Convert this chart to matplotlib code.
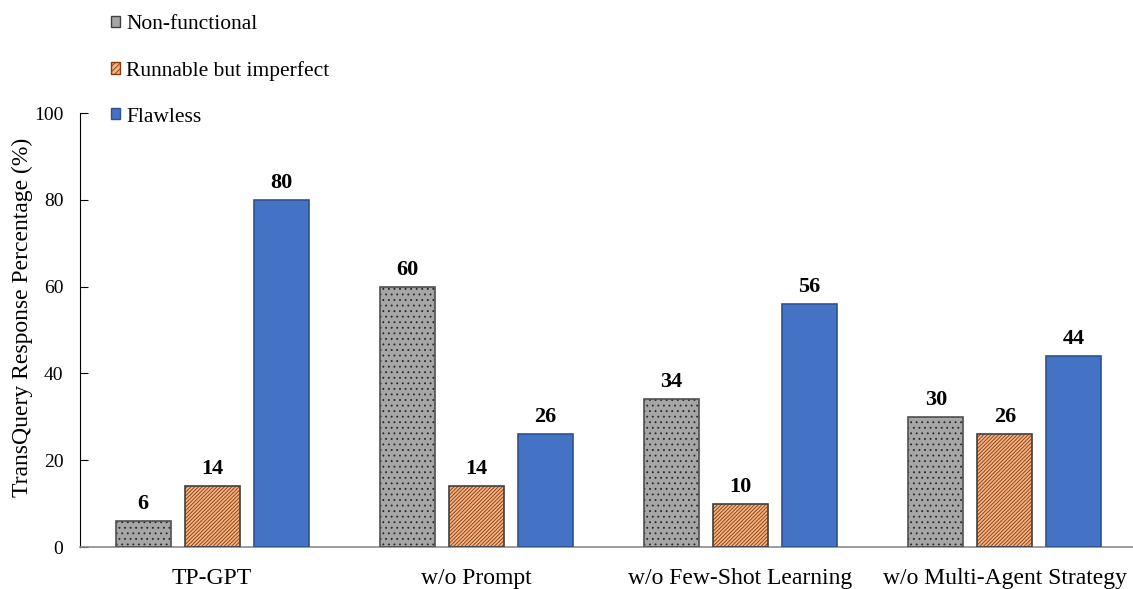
import matplotlib
matplotlib.use("Agg")
import matplotlib.pyplot as plt
import numpy as np
from matplotlib.patches import Patch

plt.rcParams['font.family'] = ['Liberation Serif', 'DejaVu Serif']

categories = ["TP-GPT", "w/o Prompt", "w/o Few-Shot Learning", "w/o Multi-Agent Strategy"]
series_names = ["Non-functional", "Runnable but imperfect", "Flawless"]
non_functional = [6, 60, 34, 30]
runnable = [14, 14, 10, 26]
flawless = [80, 26, 56, 44]
yticks = [0, 20, 40, 60, 80, 100]

W, H = 1133, 589
fig = plt.figure(figsize=(W / 100, H / 100), dpi=100)
ax = fig.add_axes([80 / W, (H - 547) / H, 1 - 80 / W, (547 - 113) / H])

x = np.arange(len(categories))
width = 0.208
step = 0.261

styles = [
    dict(face="#A6A6A6", hatch="...", hcolor="#262626", edge="#505050"),
    dict(face="#F4B183", hatch="/////////", hcolor="#843C0C", edge="#404040"),
    dict(face="#4472C4", hatch=None, hcolor=None, edge="#2F528F"),
]
values = [non_functional, runnable, flawless]

plt.rcParams['hatch.linewidth'] = 0.6
for k, (vals, st) in enumerate(zip(values, styles)):
    pos = x + (k - 1) * step
    if st["hatch"]:
        ax.bar(pos, vals, width, color=st["face"], hatch=st["hatch"],
               edgecolor=st["hcolor"], linewidth=0, zorder=2)
        ax.bar(pos, vals, width, fill=False, edgecolor=st["edge"],
               linewidth=1.2, zorder=3)
    else:
        ax.bar(pos, vals, width, color=st["face"], edgecolor=st["edge"],
               linewidth=1.2, zorder=3)
    for p, v in zip(pos, vals):
        ax.text(p, v + 1.6, f"{v}", ha="center", va="bottom",
                fontsize=16, fontweight="bold")

ax.set_xlim(-0.5, 3.485)
ax.set_ylim(0, 100)
ax.set_yticks(yticks)
ax.set_xticks(x)
ax.set_xticklabels(categories, fontsize=17)
ax.tick_params(axis="y", direction="in", length=6, labelsize=14, pad=12)
ax.tick_params(axis="x", length=0, pad=15)
ax.spines["top"].set_visible(False)
ax.spines["right"].set_visible(False)
ax.spines["left"].set_color("black")
ax.spines["bottom"].set_color("#8C8C8C")
ax.spines["bottom"].set_linewidth(1.2)
ax.set_ylabel("TransQuery Response Percentage (%)", fontsize=17, va="center")
ax.yaxis.set_label_coords(-0.055, 0.53)

handles = [
    Patch(facecolor=styles[0]["face"], edgecolor="#404040"),
    Patch(facecolor=styles[1]["face"], hatch="//////", edgecolor="#843C0C"),
    Patch(facecolor=styles[2]["face"], edgecolor=styles[2]["edge"]),
]
fig.legend(handles, series_names, loc="upper left",
           bbox_to_anchor=(99 / W, (H - 3) / H),
           frameon=False, fontsize=15.5, handlelength=0.42, handleheight=0.42,
           handletextpad=0.3, labelspacing=1.25, borderaxespad=0.15)

fig.savefig("out.png", dpi=100)
